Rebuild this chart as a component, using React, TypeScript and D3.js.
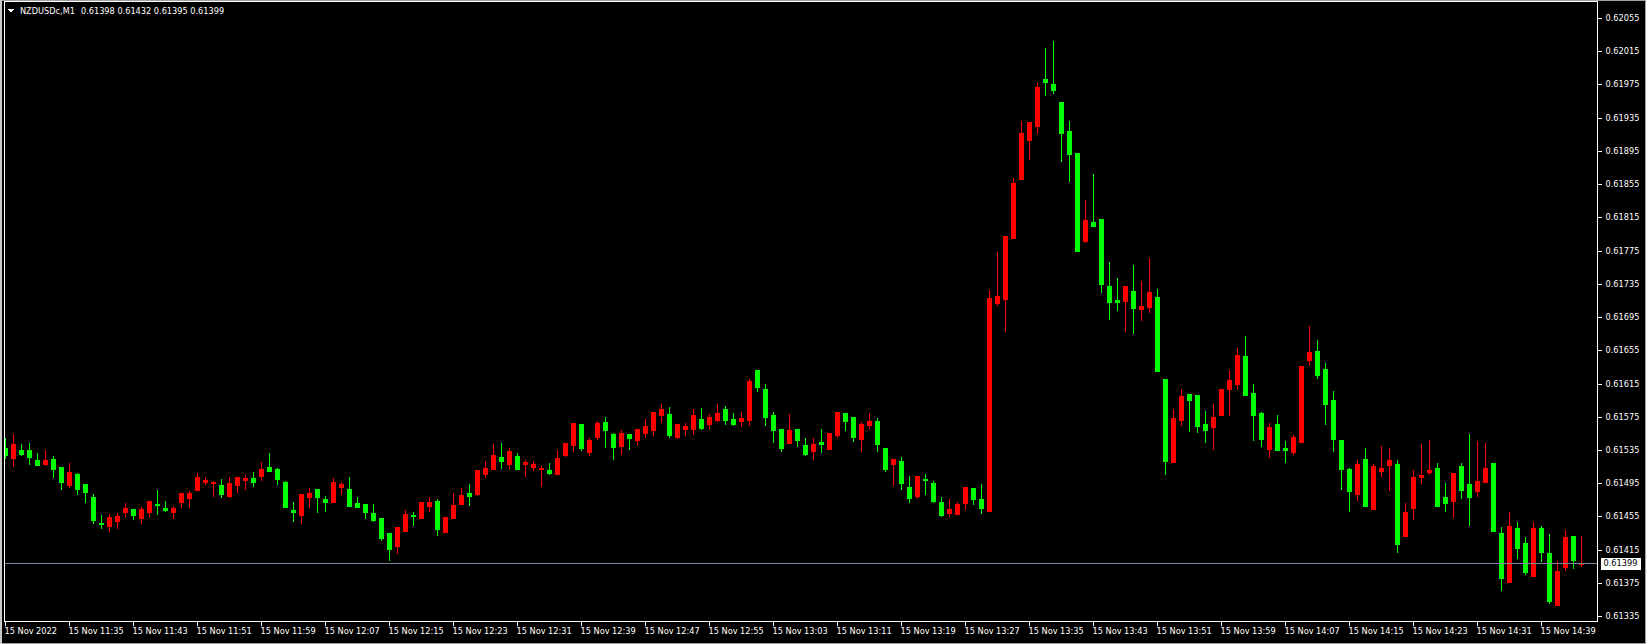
import React from "react";
import * as d3 from "d3";

const symbol = "NZDUSDc,M1";
const headerValues = ["0.61398", "0.61432", "0.61395", "0.61399"];
const lastPrice = 0.61399;

// OHLC, one bar per minute from 15 Nov 2022 11:27
const opens = [
  0.61537, 0.61525, 0.61535, 0.61535, 0.61523, 0.61518, 0.61524, 0.61514, 0.61493, 0.61506,
  0.61494, 0.61478, 0.61447, 0.61444, 0.6145, 0.6146, 0.61464, 0.61453, 0.6146, 0.6147,
  0.61465, 0.6146, 0.61472, 0.61477, 0.61487, 0.61496, 0.61495, 0.61493, 0.6148, 0.61493,
  0.61499, 0.61501, 0.61504, 0.61514, 0.61512, 0.61496, 0.61463, 0.61457, 0.61478, 0.61488,
  0.61476, 0.61472, 0.6149, 0.61488, 0.61471, 0.6147, 0.61459, 0.61453, 0.61435, 0.61419,
  0.61438, 0.61457, 0.61453, 0.61468, 0.61474, 0.61436, 0.61453, 0.6147, 0.61483, 0.61482,
  0.61506, 0.61512, 0.61527, 0.61518, 0.61528, 0.61518, 0.61514, 0.61512, 0.61511, 0.61506,
  0.61529, 0.61541, 0.61566, 0.61533, 0.61551, 0.61569, 0.61554, 0.6154, 0.61554, 0.61547,
  0.61555, 0.61559, 0.61577, 0.61578, 0.61551, 0.6156, 0.6156, 0.61572, 0.61566, 0.61571,
  0.61584, 0.61572, 0.6157, 0.61571, 0.61631, 0.61608, 0.61577, 0.6156, 0.61543, 0.6156,
  0.61541, 0.61534, 0.61545, 0.61536, 0.61553, 0.6158, 0.61575, 0.61548, 0.61565, 0.6157,
  0.61537, 0.61518, 0.61522, 0.6149, 0.6148, 0.615, 0.61495, 0.61472, 0.61459, 0.61458,
  0.61471, 0.61489, 0.61476, 0.61462, 0.61712, 0.61717, 0.6179, 0.61861, 0.61908, 0.61925,
  0.61981, 0.61975, 0.61954, 0.61919, 0.61892, 0.61786, 0.61809, 0.61813, 0.61732, 0.61716,
  0.61714, 0.61726, 0.61705, 0.61707, 0.61719, 0.6162, 0.61521, 0.61571, 0.61602, 0.61601,
  0.61566, 0.61563, 0.61577, 0.61608, 0.61614, 0.61648, 0.61604, 0.6158, 0.61536, 0.61566,
  0.61537, 0.61533, 0.61545, 0.61643, 0.61654, 0.61632, 0.61595, 0.61547, 0.61512, 0.61482,
  0.61524, 0.61464, 0.6151, 0.61517, 0.61518, 0.61431, 0.61465, 0.61502, 0.61508, 0.61513,
  0.61478, 0.61474, 0.61516, 0.61494, 0.61486, 0.61496, 0.61519, 0.61435, 0.61376, 0.61441,
  0.61423, 0.61383, 0.61441, 0.61411, 0.61348, 0.61394, 0.61432, 0.61398,
];
const highs = [
  0.61549, 0.61554, 0.61542, 0.61543, 0.61531, 0.61535, 0.61528, 0.61514, 0.61519, 0.61507,
  0.61494, 0.61482, 0.61457, 0.61458, 0.61459, 0.61471, 0.61464, 0.61466, 0.61474, 0.61487,
  0.61474, 0.61468, 0.61483, 0.61486, 0.61507, 0.61502, 0.61498, 0.615, 0.61502, 0.61502,
  0.61505, 0.61508, 0.6152, 0.61531, 0.61513, 0.61498, 0.61472, 0.61482, 0.61489, 0.61488,
  0.6148, 0.61501, 0.61496, 0.61502, 0.61478, 0.6147, 0.6147, 0.61453, 0.61435, 0.61442,
  0.61463, 0.6146, 0.61472, 0.61478, 0.61476, 0.61454, 0.61483, 0.61489, 0.61494, 0.61511,
  0.61522, 0.61542, 0.61543, 0.61537, 0.61531, 0.61523, 0.61522, 0.61516, 0.61519, 0.61535,
  0.61543, 0.61567, 0.61566, 0.61549, 0.6157, 0.61575, 0.61555, 0.61559, 0.61554, 0.6156,
  0.61572, 0.61581, 0.6159, 0.61587, 0.61566, 0.61567, 0.61584, 0.61586, 0.61578, 0.6159,
  0.61588, 0.6158, 0.61581, 0.6162, 0.61631, 0.61614, 0.61581, 0.6156, 0.61578, 0.6156,
  0.61549, 0.61549, 0.6156, 0.61555, 0.61581, 0.6158, 0.61575, 0.61569, 0.6158, 0.61573,
  0.61537, 0.61524, 0.61527, 0.61504, 0.61504, 0.61506, 0.61498, 0.61478, 0.61476, 0.61472,
  0.6149, 0.61489, 0.61494, 0.61728, 0.61773, 0.61792, 0.61862, 0.61931, 0.6193, 0.61977,
  0.62019, 0.62027, 0.61954, 0.61931, 0.61892, 0.61836, 0.61867, 0.61813, 0.61761, 0.61742,
  0.61732, 0.61758, 0.61738, 0.61766, 0.61729, 0.6162, 0.61584, 0.61608, 0.61602, 0.61601,
  0.61582, 0.6159, 0.61608, 0.61631, 0.61658, 0.61672, 0.61614, 0.61581, 0.61567, 0.61577,
  0.61546, 0.61553, 0.61636, 0.61684, 0.61667, 0.6164, 0.61606, 0.61547, 0.61513, 0.61523,
  0.61537, 0.61518, 0.6154, 0.61537, 0.61523, 0.61471, 0.61511, 0.61542, 0.61547, 0.61519,
  0.61495, 0.61507, 0.61519, 0.61554, 0.61546, 0.61543, 0.61519, 0.61442, 0.6146, 0.61448,
  0.6143, 0.61448, 0.61444, 0.61434, 0.61401, 0.61439, 0.61432, 0.61432,
];
const lows = [
  0.61525, 0.61516, 0.61529, 0.61518, 0.61517, 0.61517, 0.61502, 0.61488, 0.6149, 0.61482,
  0.61472, 0.61447, 0.61441, 0.61437, 0.61441, 0.61455, 0.61452, 0.61447, 0.61455, 0.61458,
  0.61462, 0.61453, 0.61466, 0.61466, 0.61487, 0.61494, 0.6148, 0.61478, 0.61478, 0.61484,
  0.61488, 0.61492, 0.61499, 0.6151, 0.61494, 0.61467, 0.6145, 0.61447, 0.61467, 0.6146,
  0.61461, 0.61472, 0.61482, 0.61468, 0.61466, 0.61453, 0.61449, 0.61427, 0.61403, 0.61411,
  0.61438, 0.61445, 0.61453, 0.61461, 0.61433, 0.61436, 0.61453, 0.6147, 0.61469, 0.61481,
  0.61503, 0.61512, 0.61513, 0.61513, 0.61512, 0.61504, 0.61511, 0.61492, 0.61506, 0.61506,
  0.61528, 0.61534, 0.61535, 0.61529, 0.61548, 0.61539, 0.61524, 0.6153, 0.61536, 0.61542,
  0.61551, 0.61553, 0.61569, 0.61551, 0.61549, 0.61553, 0.61554, 0.6156, 0.61561, 0.6157,
  0.61566, 0.61565, 0.61564, 0.61565, 0.61606, 0.61565, 0.61545, 0.61534, 0.61543, 0.6154,
  0.61529, 0.61524, 0.61533, 0.61536, 0.61551, 0.61559, 0.61546, 0.61534, 0.61561, 0.61534,
  0.6151, 0.61493, 0.61488, 0.61472, 0.61477, 0.61482, 0.61472, 0.61456, 0.61456, 0.61458,
  0.61464, 0.6147, 0.61459, 0.61461, 0.61709, 0.61678, 0.6179, 0.61861, 0.61885, 0.61916,
  0.61962, 0.61965, 0.61883, 0.61859, 0.61775, 0.61785, 0.61805, 0.61725, 0.61693, 0.61704,
  0.61678, 0.61676, 0.61691, 0.61701, 0.6163, 0.61506, 0.61521, 0.61565, 0.61558, 0.61557,
  0.61545, 0.61536, 0.61577, 0.61577, 0.6161, 0.61601, 0.61547, 0.6154, 0.61527, 0.61535,
  0.61521, 0.6153, 0.61545, 0.61638, 0.61622, 0.61566, 0.61534, 0.61488, 0.61462, 0.61475,
  0.61468, 0.61464, 0.61504, 0.61487, 0.61412, 0.61431, 0.61452, 0.61495, 0.61506, 0.61468,
  0.61462, 0.61454, 0.61477, 0.61445, 0.6148, 0.61496, 0.61438, 0.61366, 0.61376, 0.61405,
  0.61386, 0.61383, 0.61401, 0.61351, 0.61348, 0.61391, 0.61393, 0.61395,
];
const closes = [
  0.61529, 0.61542, 0.6153, 0.61526, 0.61517, 0.61523, 0.61512, 0.61496, 0.61508, 0.61488,
  0.61484, 0.61451, 0.61446, 0.61454, 0.61456, 0.61465, 0.61457, 0.61464, 0.61474, 0.61469,
  0.61463, 0.61465, 0.61483, 0.61483, 0.61502, 0.61499, 0.61496, 0.61482, 0.61495, 0.61502,
  0.61501, 0.61496, 0.61512, 0.6151, 0.615, 0.61467, 0.6146, 0.61482, 0.61483, 0.61478,
  0.61473, 0.61496, 0.61494, 0.61468, 0.61466, 0.6146, 0.61451, 0.61429, 0.61416, 0.61442,
  0.61458, 0.61456, 0.61472, 0.61472, 0.6144, 0.61454, 0.61469, 0.61481, 0.6148, 0.61511,
  0.61513, 0.61529, 0.61522, 0.61534, 0.61512, 0.61521, 0.61518, 0.61513, 0.61507, 0.61525,
  0.61543, 0.61567, 0.61537, 0.61547, 0.61567, 0.61559, 0.61539, 0.61555, 0.61549, 0.6156,
  0.61564, 0.61581, 0.61584, 0.61553, 0.61566, 0.61564, 0.61577, 0.61561, 0.61575, 0.6158,
  0.61571, 0.61566, 0.61573, 0.61618, 0.61611, 0.61575, 0.61559, 0.61537, 0.61559, 0.61547,
  0.6153, 0.61542, 0.61542, 0.61555, 0.61581, 0.6157, 0.61551, 0.61566, 0.6157, 0.61542,
  0.61512, 0.61524, 0.61495, 0.61477, 0.61504, 0.61499, 0.61474, 0.61457, 0.61464, 0.6147,
  0.6149, 0.61476, 0.61465, 0.61718, 0.6172, 0.61792, 0.61856, 0.61916, 0.6193, 0.61972,
  0.61978, 0.61968, 0.61916, 0.61891, 0.61775, 0.61812, 0.61805, 0.61735, 0.61713, 0.61713,
  0.61732, 0.61706, 0.61708, 0.61725, 0.6163, 0.61522, 0.61573, 0.616, 0.61595, 0.61564,
  0.61559, 0.61575, 0.61608, 0.61619, 0.61649, 0.61601, 0.61577, 0.61548, 0.61563, 0.61535,
  0.61535, 0.61551, 0.61636, 0.61653, 0.61625, 0.6159, 0.61548, 0.61512, 0.61486, 0.61518,
  0.61468, 0.61516, 0.61513, 0.61523, 0.61422, 0.6146, 0.61502, 0.61505, 0.61511, 0.61468,
  0.61471, 0.61507, 0.61487, 0.61478, 0.61498, 0.61513, 0.61438, 0.61381, 0.61444, 0.61417,
  0.61388, 0.61441, 0.61412, 0.61353, 0.61389, 0.6143, 0.61403, 0.61399,
];

const priceTicks = [
  0.62055, 0.62015, 0.61975, 0.61935, 0.61895, 0.61855, 0.61815, 0.61775, 0.61735, 0.61695,
  0.61655, 0.61615, 0.61575, 0.61535, 0.61495, 0.61455, 0.61415, 0.61375, 0.61335,
];
const timeLabels = [
  "15 Nov 2022", "15 Nov 11:35", "15 Nov 11:43", "15 Nov 11:51", "15 Nov 11:59",
  "15 Nov 12:07", "15 Nov 12:15", "15 Nov 12:23", "15 Nov 12:31", "15 Nov 12:39",
  "15 Nov 12:47", "15 Nov 12:55", "15 Nov 13:03", "15 Nov 13:11", "15 Nov 13:19",
  "15 Nov 13:27", "15 Nov 13:35", "15 Nov 13:43", "15 Nov 13:51", "15 Nov 13:59",
  "15 Nov 14:07", "15 Nov 14:15", "15 Nov 14:23", "15 Nov 14:31", "15 Nov 14:39",
];
const labelEvery = 8;

const W = 1646;
const H = 644;
const plotLeft = 4.5;
const plotRight = 1597.5;
const plotTop = 1.5;
const plotBottom = 621.5;
const font = "'DejaVu Sans', Tahoma, sans-serif";
const fs = 8.2;
const UP = "#ff0000";
const DOWN = "#00ff00";

export default function App() {
  const n = opens.length;
  const x = d3.scaleLinear().domain([0, n - 1]).range([5.5, 5.5 + 8 * (n - 1)]);
  const y = d3.scaleLinear().domain([0.61335, 0.62055]).range([616.2, 17.9]);
  const bodyW = 5;
  const yLast = Math.round(y(lastPrice));

  return (
    <svg
      width={W}
      height={H}
      style={{ position: "absolute", left: 0, top: 0, display: "block", background: "#000" }}
      shapeRendering="crispEdges"
    >
      <rect x={0} y={0} width={W} height={H} fill="#000" />
      {/* window edge */}
      <rect x={1} y={0.5} width={W - 2} height={H - 1} fill="none" stroke="#a0a0a0" strokeWidth={1} />
      <rect x={0} y={0} width={2} height={H} fill="#c8c8c8" />
      <defs>
        <clipPath id="plotClip">
          <rect x={plotLeft + 0.5} y={plotTop + 0.5} width={plotRight - plotLeft - 1} height={plotBottom - plotTop - 1} />
        </clipPath>
      </defs>

      {/* candles */}
      <g clipPath="url(#plotClip)">
        {opens.map((o, i) => {
          const c = closes[i];
          const col = c >= o ? UP : DOWN;
          const cx = x(i);
          const yTop = Math.round(y(Math.max(o, c)));
          const yBot = Math.round(y(Math.min(o, c)));
          const yHi = Math.round(y(highs[i]));
          const yLo = Math.round(y(lows[i]));
          return (
            <g key={i}>
              <rect x={cx - 0.5} y={yHi} width={1} height={Math.max(1, yLo - yHi + 1)} fill={col} />
              <rect x={cx - bodyW / 2} y={yTop} width={bodyW} height={Math.max(1, yBot - yTop + 1)} fill={col} />
            </g>
          );
        })}
        {/* bid line */}
        <line x1={plotLeft} x2={plotRight} y1={yLast + 0.5} y2={yLast + 0.5} stroke="#778899" strokeWidth={1} />
      </g>

      {/* plot frame */}
      <rect
        x={plotLeft}
        y={plotTop}
        width={plotRight - plotLeft}
        height={plotBottom - plotTop}
        fill="none"
        stroke="#ffffff"
        strokeWidth={1}
      />

      {/* price axis */}
      {priceTicks.map((p) => {
        const yy = Math.round(y(p)) + 0.5;
        return (
          <g key={p}>
            <line x1={plotRight} x2={plotRight + 4} y1={yy} y2={yy} stroke="#fff" />
            <text x={plotRight + 8} y={yy} dy="0.35em" fill="#ffffff" fontFamily={font} fontSize={fs}>
              {p.toFixed(5)}
            </text>
          </g>
        );
      })}
      {/* current price label */}
      <g>
        <rect x={plotRight + 3} y={yLast - 5} width={40} height={12} fill="#ffffff" />
        <text x={plotRight + 6} y={yLast + 0.5} dy="0.35em" fill="#000" fontFamily={font} fontSize={fs}>
          {lastPrice.toFixed(5)}
        </text>
      </g>

      {/* time axis */}
      {timeLabels.map((t, k) => {
        const xx = Math.round(x(k * labelEvery) - 0.5) + 0.5;
        return (
          <g key={t}>
            <line x1={xx} x2={xx} y1={plotBottom} y2={plotBottom + 4} stroke="#fff" />
            <text x={xx - 1} y={631} dy="0.35em" fill="#ffffff" fontFamily={font} fontSize={fs}>
              {t}
            </text>
          </g>
        );
      })}

      {/* header */}
      <path d="M8,9 L14,9 L11,13 Z" fill="#ffffff" />
      <text x={20} y={11.5} dy="0.35em" fill="#ffffff" fontFamily={font} fontSize={fs}>
        {symbol}
        <tspan dx={6}>{headerValues.join(" ")}</tspan>
      </text>
    </svg>
  );
}
